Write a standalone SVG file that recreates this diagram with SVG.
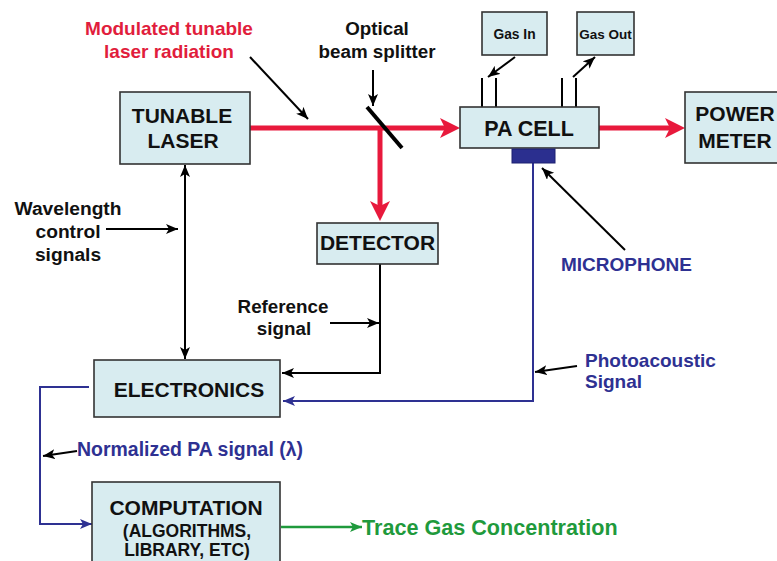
<svg xmlns="http://www.w3.org/2000/svg" width="777" height="561" viewBox="0 0 777 561">
<style>
.box{fill:#d8ecf0;stroke:#333;stroke-width:1.6}
text{font-family:"Liberation Sans",Arial,sans-serif;font-weight:bold}
.bt{font-size:21px;fill:#111;text-anchor:middle}
.lb{font-size:18.8px;fill:#111}
.red{fill:#e11d3c}
.blue{fill:#2e3192}
.k{stroke:#000;stroke-width:2;fill:none}
.r{stroke:#e8193c;stroke-width:5;fill:none}
.b{stroke:#2e3192;stroke-width:2;fill:none}
.g{stroke:#1f9a3c;stroke-width:2.5;fill:none}
</style>
<defs>
<marker id="ak" viewBox="0 0 12 10" refX="12" refY="5" markerWidth="12" markerHeight="10" markerUnits="userSpaceOnUse" orient="auto-start-reverse"><path d="M0,0 L12,5 L0,10 L3,5 z" fill="#000"/></marker>
<marker id="ar" viewBox="0 0 20 20" refX="10" refY="10" markerWidth="20" markerHeight="20" markerUnits="userSpaceOnUse" orient="auto"><path d="M0,0 L20,10 L0,20 L5,10 z" fill="#e8193c"/></marker>
<marker id="ab" viewBox="0 0 12 10" refX="12" refY="5" markerWidth="12" markerHeight="10" markerUnits="userSpaceOnUse" orient="auto"><path d="M0,0 L12,5 L0,10 L3,5 z" fill="#2e3192"/></marker>
<marker id="ag" viewBox="0 0 12 10" refX="12" refY="5" markerWidth="12" markerHeight="10" markerUnits="userSpaceOnUse" orient="auto"><path d="M0,0 L12,5 L0,10 L3,5 z" fill="#1f9a3c"/></marker>
</defs>

<g id="connectors">
<path class="r" d="M250,128 H450" marker-end="url(#ar)"/>
<path class="r" d="M380,128 V211" marker-end="url(#ar)"/>
<path class="r" d="M599,128 H675" marker-end="url(#ar)"/>
<path class="k" d="M250,57 L308,119" marker-end="url(#ak)"/>
<path class="k" d="M373,70 V106" marker-end="url(#ak)"/>
<path class="k" d="M515,57 L488,77" marker-end="url(#ak)"/>
<path class="k" d="M573,77 L595,57" marker-end="url(#ak)"/>
<path class="k" d="M185,165 V359" marker-start="url(#ak)" marker-end="url(#ak)"/>
<path class="k" d="M106,229 H178" marker-end="url(#ak)"/>
<path class="k" d="M330,323 H379" marker-end="url(#ak)"/>
<path class="k" d="M380,264 V373 H282" marker-end="url(#ak)"/>
<path class="k" d="M625,250 L542,168" marker-end="url(#ak)"/>
<path class="k" d="M577,366 L535,372" marker-end="url(#ak)"/>
<path class="k" d="M77,451 L43,456" marker-end="url(#ak)"/>
<path class="b" d="M533,163 V401 H283" marker-end="url(#ab)"/>
<path class="b" d="M89,387 H40 V524 H92" marker-end="url(#ab)"/>
<path class="g" d="M281,527 H362" marker-end="url(#ag)"/>
</g>

<g id="splitter">
<line x1="367" y1="107" x2="402" y2="148" stroke="#000" stroke-width="4"/>
</g>

<g id="tunable-laser">
<rect class="box" x="120" y="92" width="130" height="72"/>
<text class="bt" x="182" y="123">TUNABLE</text>
<text class="bt" x="183" y="148">LASER</text>
</g>

<g id="pa-cell">
<line class="k" x1="482" y1="78" x2="482" y2="107"/>
<line class="k" x1="496" y1="78" x2="496" y2="107"/>
<line class="k" x1="562" y1="78" x2="562" y2="107"/>
<line class="k" x1="576" y1="78" x2="576" y2="107"/>
<rect class="box" x="460" y="107" width="139" height="41"/>
<text class="bt" x="529" y="136" style="font-size:21.5px">PA CELL</text>
</g>

<g id="microphone">
<rect x="512" y="149" width="43" height="14" fill="#2b2f8f" stroke="#1d2070" stroke-width="1"/>
</g>

<g id="gas-in">
<rect class="box" x="482" y="12" width="65" height="43"/>
<text x="514.5" y="39" style="font-size:13.8px;fill:#111;text-anchor:middle">Gas In</text>
</g>

<g id="gas-out">
<rect class="box" x="577" y="12" width="57" height="43"/>
<text x="605.5" y="39" style="font-size:13.5px;fill:#111;text-anchor:middle">Gas Out</text>
</g>

<g id="power-meter">
<rect class="box" x="685" y="92" width="105" height="71"/>
<text class="bt" x="735" y="121">POWER</text>
<text class="bt" x="735" y="148">METER</text>
</g>

<g id="detector">
<rect class="box" x="317" y="223" width="121" height="41"/>
<text class="bt" x="377.5" y="250">DETECTOR</text>
</g>

<g id="electronics">
<rect class="box" x="94" y="360" width="186" height="57"/>
<text class="bt" x="189" y="397">ELECTRONICS</text>
</g>

<g id="computation">
<rect class="box" x="92" y="482" width="188" height="90"/>
<text class="bt" x="186" y="515">COMPUTATION</text>
<text class="bt" x="187" y="537" style="font-size:17.5px">(ALGORITHMS,</text>
<text class="bt" x="187" y="556" style="font-size:17.5px">LIBRARY, ETC)</text>
</g>

<g id="labels">
<text class="red" x="169" y="35" style="font-size:19px;text-anchor:middle">Modulated tunable</text>
<text class="red" x="169" y="58" style="font-size:19px;text-anchor:middle">laser radiation</text>
<text class="lb" x="377" y="35" style="text-anchor:middle">Optical</text>
<text class="lb" x="377" y="58" style="text-anchor:middle">beam splitter</text>
<text class="lb" x="68" y="215" style="text-anchor:middle;font-size:19.2px">Wavelength</text>
<text class="lb" x="68" y="238" style="text-anchor:middle;font-size:19.2px">control</text>
<text class="lb" x="68" y="261" style="text-anchor:middle;font-size:19.2px">signals</text>
<text class="lb" x="283" y="313" style="text-anchor:middle">Reference</text>
<text class="lb" x="284" y="335" style="text-anchor:middle">signal</text>
<text class="blue" x="561" y="271" style="font-size:19px">MICROPHONE</text>
<text class="blue" x="585" y="367" style="font-size:19px">Photoacoustic</text>
<text class="blue" x="585" y="388" style="font-size:19px">Signal</text>
<text class="blue" x="77" y="456" style="font-size:19.5px" textLength="226" lengthAdjust="spacingAndGlyphs">Normalized PA signal (λ)</text>
<text x="362" y="535" style="font-size:21.6px;fill:#1f9a3c">Trace Gas Concentration</text>
</g>
</svg>
